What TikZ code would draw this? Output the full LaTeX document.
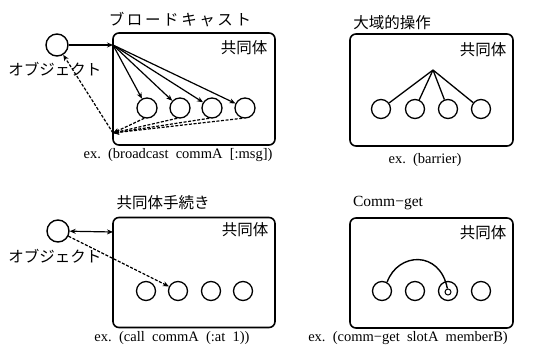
\documentclass[tikz,border=0pt]{standalone}
\usepackage{fontspec}
\setmainfont{Liberation Serif}
\newfontfamily\jp{Noto Sans CJK JP}
\usetikzlibrary{arrows.meta}
\newcommand{\ks}{\hspace{2.6pt}}
\begin{document}
\begin{tikzpicture}[x=1pt,y=-1pt,
 box/.style={draw, line width=1.6pt, rounded corners=6pt, inner sep=0pt},
 mem/.style={draw, circle, minimum size=20pt, inner sep=0pt, line width=1.3pt},
 smem/.style={draw, circle, minimum size=19pt, inner sep=0pt, line width=1.3pt},
 obj/.style={draw, circle, minimum size=22pt, inner sep=0pt, line width=1.4pt},
 jptext/.style={font=\jp\fontsize{15.5}{16}\selectfont, inner sep=0pt},
 extext/.style={font=\fontsize{14.5}{14.5}\selectfont, inner sep=0pt},
 arr/.style={-{Stealth[length=6pt,width=5pt]}, line width=1.2pt},
 dsh/.style={line width=1.7pt, dash pattern=on 3pt off 1.6pt}
]
\useasboundingbox (0,0) rectangle (535,350);

% ---------- Panel 1: broadcast ----------
\node[jptext] (t1) at (180,20) {ブ\ks ロ\ks ー\ks ド\ks キ\ks ャ\ks ス\ks ト};
\node[box, minimum width=162pt, minimum height=112pt] (b1) at (194,89) {};
\node[jptext] (k1) at (244,48) {共同体};
\node[obj] (o1) at (57,45) {};
\node[jptext] (ob1) at (55,69) {オブジェクト};
\node[mem] (m11) at (147,108) {};
\node[mem] (m12) at (180,108) {};
\node[mem] (m13) at (212,108) {};
\node[mem] (m14) at (245,108) {};
\coordinate (h1) at (113,45);
\coordinate (c1) at (113,133);
\draw[arr] (o1) -- (h1);
\foreach \i in {1,2,3,4} {
  \draw[arr] (h1) -- (m1\i);
  \draw[dsh,arr] (m1\i.-105) -- (c1);
}
\draw[dsh,arr] (c1) -- (o1);
\node[extext] (e1) at (178,155) {ex.\ \ (broadcast\ \ commA\ \ [:msg])};

% ---------- Panel 2: barrier ----------
\node[jptext] (t2) at (392,23) {大域的操作};
\node[box, minimum width=163pt, minimum height=112pt] (b2) at (431.5,90) {};
\node[jptext] (k2) at (483,50) {共同体};
\coordinate (h2) at (433,70);
\node[smem] (m21) at (381,109) {};
\node[smem] (m22) at (415,109) {};
\node[smem] (m23) at (448,109) {};
\node[smem] (m24) at (481,109) {};
\foreach \i in {1,2,3,4} {
  \draw[line width=1.3pt] (h2) -- (m2\i);
}
\node[extext] (e2) at (425,160) {ex.\ \ (barrier)};

% ---------- Panel 3: call ----------
\node[jptext] (t3) at (163,203) {共同体手続き};
\node[box, minimum width=162pt, minimum height=110pt] (b3) at (194,272.5) {};
\node[jptext] (k3) at (245,230) {共同体};
\node[obj] (o3) at (58,231) {};
\node[jptext] (ob3) at (55,256) {オブジェクト};
\coordinate (h3) at (113,232);
\draw[arr, {Stealth[length=6pt,width=5pt]}-{Stealth[length=6pt,width=5pt]}] (o3) -- (h3);
\node[smem] (m31) at (146,291) {};
\node[smem] (m32) at (178,291) {};
\node[smem] (m33) at (211,291) {};
\node[smem] (m34) at (243,291) {};
\draw[dsh,arr] (o3) -- (m32);
\node[extext] (e3) at (172,338) {ex.\ \ (call\ \ commA\ \ (:at\ \ 1))};

% ---------- Panel 4: comm-get ----------
\node[extext, font=\fontsize{15.5}{15.5}\selectfont] (t4) at (388,203) {Comm−get};
\node[box, minimum width=163pt, minimum height=110pt] (b4) at (431.5,273) {};
\node[jptext] (k4) at (483,233) {共同体};
\node[smem] (m41) at (382,291) {};
\node[smem] (m42) at (415,291) {};
\node[smem] (m43) at (448,291) {};
\node[smem] (m44) at (481,291) {};
\node[draw, circle, minimum size=6pt, inner sep=0pt, line width=1pt] (in4) at (448,292) {};
\draw[line width=1.4pt] (m41.60) .. controls (398,252) and (440,250) .. (in4);
\node[extext] (e4) at (408,338) {ex.\ \ (comm−get\ \ slotA\ \ memberB)};
\end{tikzpicture}
\end{document}
